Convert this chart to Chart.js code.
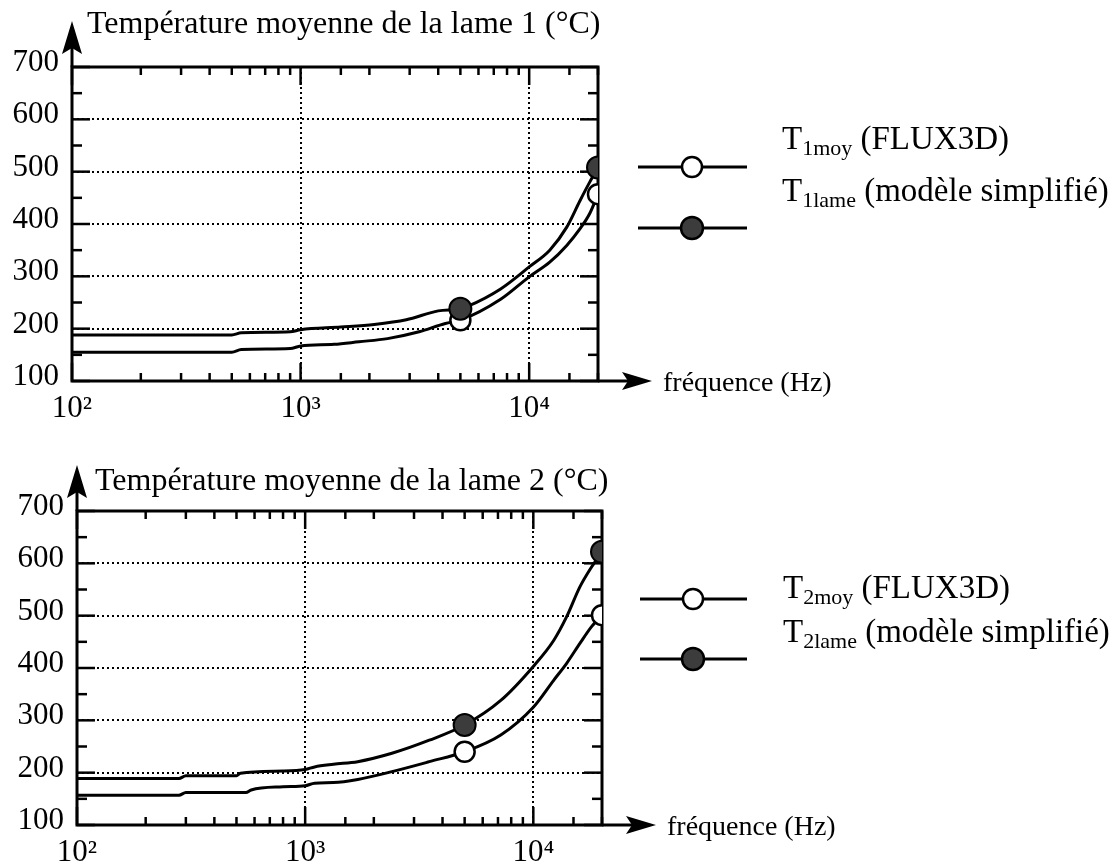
<!DOCTYPE html>
<html>
<head>
<meta charset="utf-8">
<script src="https://cdn.jsdelivr.net/npm/chart.js@4.4.1/dist/chart.umd.min.js"></script>
<style>
  body { margin: 0; background: #fff; }
  canvas { position: absolute; left: 0; }
  #c1 { top: 0; }
  #c2 { top: 433px; }
</style>
</head>
<body>
<canvas id="c1" width="1117" height="433"></canvas>
<canvas id="c2" width="1117" height="434"></canvas>
<script>
// lame 1
const freqMoy1 = [100, 500, 550, 900, 1000, 1400, 1800, 2400, 3300, 4300, 5000, 7500, 10000, 12300, 14600, 16700, 18400, 20000];
const moy1 =     [155, 155, 160, 162, 167, 170, 175, 181, 194, 210, 216, 256, 299, 327, 359, 391, 420, 457];
const freqLame1 = [100, 500, 550, 900, 1000, 1500, 2100, 2900, 4000, 5000, 5400, 7500, 10000, 12300, 14600, 16700, 18400, 20000];
const lame1 =     [188, 188, 192, 194, 198, 203, 208, 217, 234, 238, 243, 276, 318, 350, 394, 445, 480, 508];

// lame 2
const freqMoy2 = [100, 280, 300, 550, 580, 800, 1000, 1100, 1330, 1700, 2400, 3500, 5000, 7200, 10000, 12300, 14000, 16000, 18000, 20000];
const moy2 =     [157, 157, 162, 162, 167, 173, 175, 180, 181, 187, 202, 221, 240, 272, 325, 377, 409, 447, 479, 501];
const freqLame2 = [100, 280, 300, 500, 520, 800, 1000, 1100, 1330, 1700, 2400, 3500, 5000, 7200, 10000, 12300, 14000, 16000, 18000, 20000];
const lame2 =     [189, 189, 194, 194, 199, 203, 206, 211, 216, 221, 237, 262, 291, 338, 403, 453, 498, 555, 593, 622];

// points with markers
const markerFreq = [5000, 20000];
const markMoy1 = [216, 457];
const markLame1 = [238, 508];
const markMoy2 = [240, 501];
const markLame2 = [291, 622];

const yMinor = [150, 250, 350, 450, 550, 650];
const xTickValues = [100, 1000, 10000];
const xTickLabels = ['10²', '10³', '10⁴'];
const titles = ['Température moyenne de la lame 1 (°C)', 'Température moyenne de la lame 2 (°C)'];
const xTitle = 'fréquence (Hz)';
const legendSubs = [['1moy', '1lame'], ['2moy', '2lame']];
const legendTails = [' (FLUX3D)', ' (modèle simplifié)'];

const serif = '"Liberation Serif", "Times New Roman", serif';
const pts = (xs, ys) => xs.map((x, i) => ({ x: x, y: ys[i] }));

function seg(ctx, x1, y1, x2, y2) {
  ctx.beginPath(); ctx.moveTo(x1, y1); ctx.lineTo(x2, y2); ctx.stroke();
}

const decor = {
  id: 'decor',
  beforeDatasetsDraw(chart, args, o) {
    const ctx = chart.ctx;
    const { left, right, top, bottom } = chart.chartArea;
    const xs = chart.scales.x, ys = chart.scales.y;
    ctx.save();
    ctx.strokeStyle = '#000';
    ctx.lineWidth = 3;
    ctx.strokeRect(left, top, right - left, bottom - top);
    ctx.lineWidth = 2.5;
    // y ticks, both sides, pointing inward
    ys.ticks.forEach(t => {
      const y = ys.getPixelForValue(t.value);
      seg(ctx, left, y, left + 18, y);
      seg(ctx, right, y, right - 18, y);
    });
    yMinor.forEach(v => {
      const y = ys.getPixelForValue(v);
      seg(ctx, left, y, left + 10, y);
      seg(ctx, right, y, right - 10, y);
    });
    // x ticks top and bottom
    xs.ticks.forEach(t => {
      const x = xs.getPixelForValue(t.value);
      const len = xTickValues.includes(t.value) ? 18 : 8;
      seg(ctx, x, bottom, x, bottom - len);
      seg(ctx, x, top, x, top + len);
    });
    ctx.restore();
  },
  afterDraw(chart, args, o) {
    const ctx = chart.ctx;
    const { left, right, top, bottom } = chart.chartArea;
    ctx.save();
    ctx.fillStyle = '#000';
    ctx.strokeStyle = '#000';
    // y arrow
    ctx.lineWidth = 3;
    seg(ctx, left, top, left, top - 30);
    ctx.beginPath();
    ctx.moveTo(left, top - 46);
    ctx.lineTo(left + 10, top - 13);
    ctx.lineTo(left, top - 19);
    ctx.lineTo(left - 10, top - 13);
    ctx.closePath(); ctx.fill();
    // x arrow
    seg(ctx, right, bottom, right + 36, bottom);
    ctx.beginPath();
    ctx.moveTo(right + 54, bottom);
    ctx.lineTo(right + 24, bottom - 9);
    ctx.lineTo(right + 30, bottom);
    ctx.lineTo(right + 24, bottom + 9);
    ctx.closePath(); ctx.fill();

    // texts
    ctx.textBaseline = 'alphabetic';
    ctx.textAlign = 'left';
    ctx.font = '32px ' + serif;
    ctx.fillText(o.title, o.titleX, o.titleY);
    ctx.font = '28px ' + serif;
    ctx.fillText(xTitle, right + 65, bottom + 10);

    // legend
    for (let i = 0; i < 2; i++) {
      const ly = o.lineY[i];
      ctx.lineWidth = 3;
      seg(ctx, o.lineX[0], ly, o.lineX[1], ly);
      ctx.beginPath();
      ctx.arc(o.markX, ly, i === 0 ? 10 : 11, 0, Math.PI * 2);
      ctx.fillStyle = i === 0 ? '#fff' : '#3c3c3c';
      ctx.fill();
      ctx.lineWidth = 2.5;
      ctx.stroke();
      ctx.fillStyle = '#000';
      let x = o.textX;
      const by = o.textY[i];
      ctx.font = '33px ' + serif;
      ctx.fillText('T', x, by);
      x += ctx.measureText('T').width;
      ctx.font = '22px ' + serif;
      ctx.fillText(legendSubs[o.n][i], x, by + 6);
      x += ctx.measureText(legendSubs[o.n][i]).width;
      ctx.font = '33px ' + serif;
      ctx.fillText(legendTails[i], x, by);
    }
    ctx.restore();
  }
};

function makeChart(id, n, moyF, moy, lameF, lame, mMoy, mLame, pad, yW, xH, deco) {
  const tickFont = { family: serif, size: 31 };
  return new Chart(document.getElementById(id), {
    type: 'line',
    data: {
      datasets: [
        { data: pts(markerFreq, mLame), showLine: false, pointRadius: 11, pointBackgroundColor: '#3c3c3c', pointBorderColor: '#000', pointBorderWidth: 2 },
        { data: pts(markerFreq, mMoy), showLine: false, pointRadius: 10, pointBackgroundColor: '#fff', pointBorderColor: '#000', pointBorderWidth: 2.5 },
        { data: pts(lameF, lame), borderColor: '#000', borderWidth: 3, pointRadius: 0, cubicInterpolationMode: 'monotone' },
        { data: pts(moyF, moy), borderColor: '#000', borderWidth: 3, pointRadius: 0, cubicInterpolationMode: 'monotone' }
      ]
    },
    options: {
      responsive: false,
      animation: false,
      devicePixelRatio: 1,
      layout: { padding: pad },
      plugins: { legend: { display: false }, tooltip: { enabled: false }, decor: deco },
      scales: {
        x: {
          type: 'logarithmic', min: 100, max: 20000,
          afterFit: s => { s.height = xH; },
          grid: {
            color: c => (c.tick && (c.tick.value === 1000 || c.tick.value === 10000)) ? '#000' : 'rgba(0,0,0,0)',
            lineWidth: 2, drawTicks: false
          },
          border: { display: false, dash: [2, 3] },
          ticks: {
            autoSkip: false, maxRotation: 0, padding: 9, color: '#000', font: tickFont,
            callback: v => { const i = xTickValues.indexOf(v); return i < 0 ? '' : xTickLabels[i]; }
          }
        },
        y: {
          min: 100, max: 700,
          afterFit: s => { s.width = yW; },
          grid: {
            color: c => (c.tick && c.tick.value > 100 && c.tick.value < 700) ? '#000' : 'rgba(0,0,0,0)',
            lineWidth: 2, drawTicks: false
          },
          border: { display: false, dash: [2, 3] },
          ticks: { stepSize: 100, padding: 13, labelOffset: -4, color: '#000', font: tickFont }
        }
      }
    },
    plugins: [decor]
  });
}

makeChart('c1', 0, freqMoy1, moy1, freqLame1, lame1, markMoy1, markLame1,
  { left: 0, right: 519, top: 67, bottom: 0 }, 72, 52,
  { n: 0, title: titles[0], titleX: 87, titleY: 33, lineX: [638, 747], markX: 692, lineY: [167, 228], textX: 782, textY: [149, 201] });

makeChart('c2', 1, freqMoy2, moy2, freqLame2, lame2, markMoy2, markLame2,
  { left: 0, right: 515, top: 78, bottom: 0 }, 77, 42,
  { n: 1, title: titles[1], titleX: 95, titleY: 57, lineX: [640, 747], markX: 693, lineY: [166, 226], textX: 783, textY: [165, 209] });
</script>
</body>
</html>
